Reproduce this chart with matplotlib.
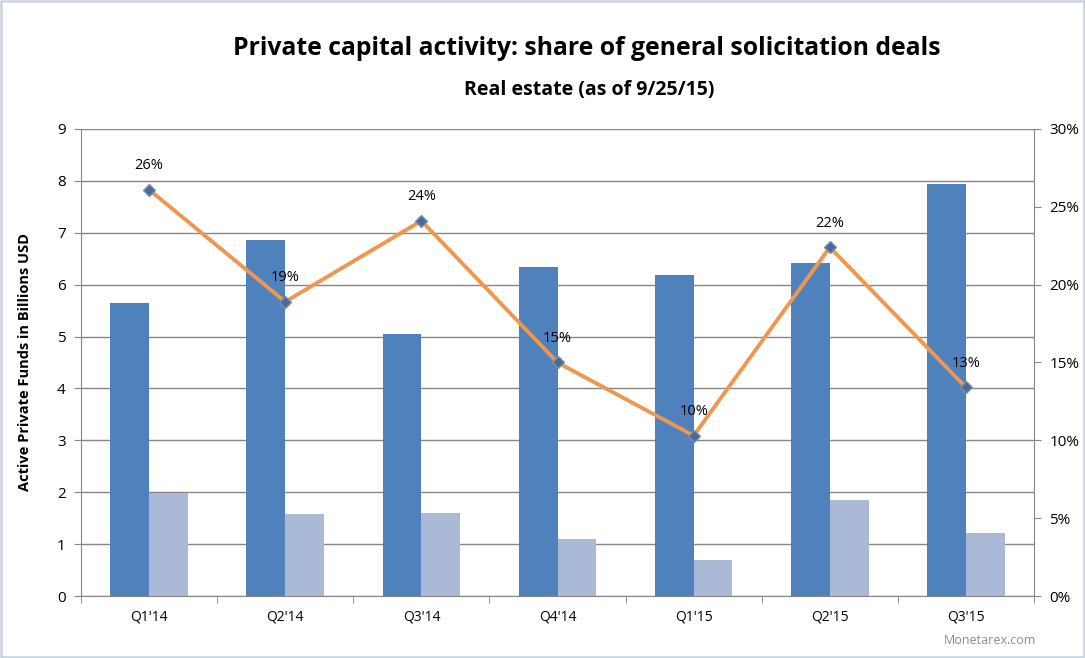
import matplotlib
matplotlib.use("Agg")
import matplotlib.pyplot as plt
import numpy as np
from matplotlib.patches import Rectangle

plt.rcParams["font.family"] = ["Open Sans", "DejaVu Sans"]

# Data
quarters = ["Q1'14", "Q2'14", "Q3'14", "Q4'14", "Q1'15", "Q2'15", "Q3'15"]
active_funds = [5.65, 6.87, 5.05, 6.34, 6.18, 6.42, 7.94]
gs_funds = [1.99, 1.58, 1.60, 1.10, 0.70, 1.85, 1.21]
gs_share = [26.1, 18.9, 24.1, 15.0, 10.3, 22.4, 13.4]
share_labels = ["26%", "19%", "24%", "15%", "10%", "22%", "13%"]

dark_blue = "#4F81BD"
light_blue = "#A9B9D6"
orange = "#F0974F"
marker_col = "#4A6A9A"

fig = plt.figure(figsize=(10.85, 6.58), dpi=100, facecolor="white")
ax = fig.add_axes([0.0747, 0.0942, 0.8783, 0.7098])

x = np.arange(len(quarters))
w = 0.285
ax.bar(x - w / 2, active_funds, width=w, color=dark_blue, zorder=2)
ax.bar(x + w / 2, gs_funds, width=w, color=light_blue, zorder=2)

ax.set_xlim(-0.5, len(quarters) - 0.5)
ax.set_ylim(0, 9)
ax.set_yticks(range(0, 10))
ax.set_xticks(x)
ax.set_xticklabels(quarters, fontsize=10)
ax.set_xticks(np.arange(-0.5, len(quarters)), minor=True)
ax.tick_params(axis="x", which="major", length=0, pad=10)
ax.tick_params(axis="x", which="minor", length=5, color="#868686")
ax.tick_params(axis="y", labelsize=11, length=5, color="#868686", pad=6)
ax.grid(axis="y", color="#868686", linewidth=1, zorder=0)
ax.set_axisbelow(True)
for side in ["top", "right"]:
    ax.spines[side].set_visible(False)
ax.spines["left"].set_color("#868686")
ax.spines["bottom"].set_color("#868686")
ax.set_ylabel("Active Private Funds in Billions USD", fontsize=10.5, fontweight="bold", labelpad=18)

ax2 = ax.twinx()
ax2.set_ylim(0, 30)
ax2.set_yticks(range(0, 31, 5))
ax2.set_yticklabels([f"{v}%" for v in range(0, 31, 5)])
ax2.tick_params(axis="y", labelsize=11, length=5, color="#868686", pad=6)
for side in ["top", "left", "bottom"]:
    ax2.spines[side].set_visible(False)
ax2.spines["right"].set_color("#868686")
ax2.plot(x, gs_share, color=orange, linewidth=2.8, zorder=3)
ax2.plot(x, gs_share, linestyle="none", marker="D", markersize=6.5,
         markerfacecolor=marker_col, markeredgecolor="#7F8FA6", zorder=4)
for xi, v, lab in zip(x, gs_share, share_labels):
    ax2.annotate(lab, (xi, v), xytext=(0, 12), textcoords="offset points",
                 ha="center", va="bottom", fontsize=10.5, color="black", zorder=5)

fig.text(0.541, 0.926, "Private capital activity: share of general solicitation deals",
         ha="center", va="center", fontsize=17.8, fontweight="bold")
fig.text(0.543, 0.863, "Real estate (as of 9/25/15)", ha="center", va="center",
         fontsize=14, fontweight="bold")
fig.text(0.955, 0.027, "Monetarex.com", ha="right", va="center", fontsize=9, color="#8C8C8C")

# light frame around the chart area
fig.patches.append(Rectangle((0.001, 0.002), 0.998, 0.996, transform=fig.transFigure,
                             fill=False, edgecolor="#C8D4E0", linewidth=1.8))

fig.savefig("out.png", dpi=100, facecolor="white")
